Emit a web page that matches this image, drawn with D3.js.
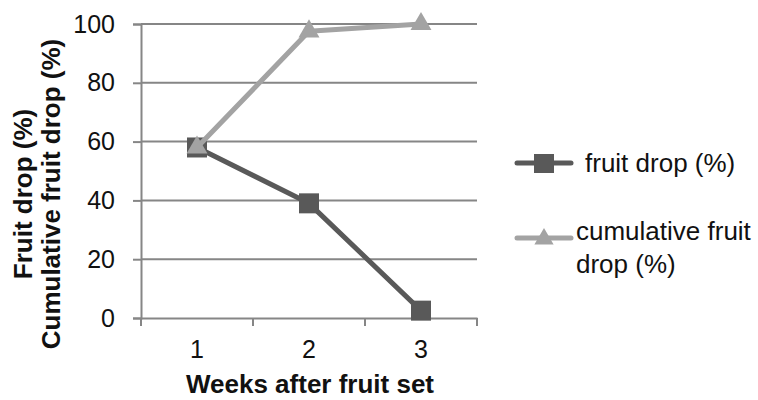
<!DOCTYPE html>
<html><head><meta charset="utf-8">
<script src="https://cdn.jsdelivr.net/npm/d3@7"></script>
<style>body{margin:0;background:#fff;} svg{display:block;font-family:"Liberation Sans",Arial,sans-serif;}</style>
</head><body>
<svg id="c" width="758" height="400"></svg>
<script>
const weeks = ["1","2","3"];
const fruitDrop = [58, 39, 2.5];
const cumulativeDrop = [58, 97.5, 100];
const yTicks = [0, 20, 40, 60, 80, 100];
const seriesNames = ["fruit drop (%)", ["cumulative fruit", "drop (%)"]];

(function () {
const svg = d3.select("#c");
const pL = 141, pR = 477, pT = 24, pB = 318;
const x = d3.scaleBand().domain(weeks).range([pL, pR]);
const y = d3.scaleLinear().domain([0, 100]).range([pB, pT]);
const axisCol = "#868686";
const darkCol = "#595959", lightCol = "#a3a3a3";
const txtCol = "#111";

svg.append("g").selectAll("line").data(yTicks.filter(d => d > 0)).join("line")
  .attr("x1", pL).attr("x2", pR).attr("y1", d => y(d)).attr("y2", d => y(d))
  .attr("stroke", axisCol).attr("stroke-width", 2);

const ya = svg.append("g").attr("transform", `translate(${pL},0)`)
  .call(d3.axisLeft(y).tickValues(yTicks).tickSize(8).tickPadding(18));
ya.select(".domain").attr("stroke", axisCol).attr("stroke-width", 2);
ya.selectAll(".tick line").attr("stroke", axisCol).attr("stroke-width", 2);
ya.selectAll(".tick text").attr("font-size", 25).attr("fill", txtCol).attr("font-family", "Liberation Sans, Arial");

const xa = svg.append("g").attr("transform", `translate(0,${pB})`)
  .call(d3.axisBottom(x).tickSize(0).tickPadding(22));
xa.select(".domain").attr("stroke", axisCol).attr("stroke-width", 2);
xa.selectAll(".tick text").attr("font-size", 25).attr("fill", txtCol).attr("font-family", "Liberation Sans, Arial");
svg.append("g").selectAll("line").data(weeks).join("line")
  .attr("x1", d => x(d)).attr("x2", d => x(d))
  .attr("y1", pB).attr("y2", pB + 8)
  .attr("stroke", axisCol).attr("stroke-width", 2);
svg.append("line").attr("x1", pR).attr("x2", pR).attr("y1", pB).attr("y2", pB + 8)
  .attr("stroke", axisCol).attr("stroke-width", 2);

const cx = d => x(d) + x.bandwidth() / 2;
const line = d3.line().x((d, i) => cx(weeks[i])).y(d => y(d));

svg.append("path").datum(fruitDrop).attr("d", line)
  .attr("fill", "none").attr("stroke", darkCol).attr("stroke-width", 5).attr("stroke-linejoin", "round");
svg.append("g").selectAll("rect").data(fruitDrop).join("rect")
  .attr("x", (d, i) => cx(weeks[i]) - 10).attr("y", d => y(d) - 10)
  .attr("width", 20).attr("height", 20).attr("fill", darkCol);

svg.append("path").datum(cumulativeDrop).attr("d", line)
  .attr("fill", "none").attr("stroke", lightCol).attr("stroke-width", 5).attr("stroke-linejoin", "round");
const tri = d3.symbol().type(d3.symbolTriangle).size(190);
svg.append("g").selectAll("path").data(cumulativeDrop).join("path")
  .attr("d", tri).attr("transform", (d, i) => `translate(${cx(weeks[i])},${y(d)})`)
  .attr("fill", lightCol);

svg.append("text").attr("x", 310).attr("y", 393).attr("text-anchor", "middle")
  .attr("font-size", 26).attr("font-weight", "bold").attr("fill", txtCol).text("Weeks after fruit set");
const yt = svg.append("text").attr("transform", "translate(0,194) rotate(-90)")
  .attr("text-anchor", "middle").attr("font-size", 26).attr("font-weight", "bold").attr("fill", txtCol);
yt.append("tspan").attr("x", 0).attr("y", 32).text("Fruit drop (%)");
yt.append("tspan").attr("x", 0).attr("y", 60).text("Cumulative fruit drop (%)");

const lg = svg.append("g");
lg.append("line").attr("x1", 517).attr("x2", 571).attr("y1", 163).attr("y2", 163)
  .attr("stroke", darkCol).attr("stroke-width", 5).attr("stroke-linecap", "round");
lg.append("rect").attr("x", 534).attr("y", 154).attr("width", 20).attr("height", 19).attr("fill", darkCol);
lg.append("text").attr("x", 585).attr("y", 172).attr("font-size", 26).attr("fill", txtCol).text(seriesNames[0]);
lg.append("line").attr("x1", 517).attr("x2", 571).attr("y1", 238).attr("y2", 238)
  .attr("stroke", lightCol).attr("stroke-width", 5).attr("stroke-linecap", "round");
lg.append("path").attr("d", d3.symbol().type(d3.symbolTriangle).size(160))
  .attr("transform", "translate(544,239)").attr("fill", lightCol);
const lt = lg.append("text").attr("font-size", 26).attr("fill", txtCol);
lt.append("tspan").attr("x", 576).attr("y", 240).text(seriesNames[1][0]);
lt.append("tspan").attr("x", 576).attr("y", 273).text(seriesNames[1][1]);
})();
</script>
</body></html>
